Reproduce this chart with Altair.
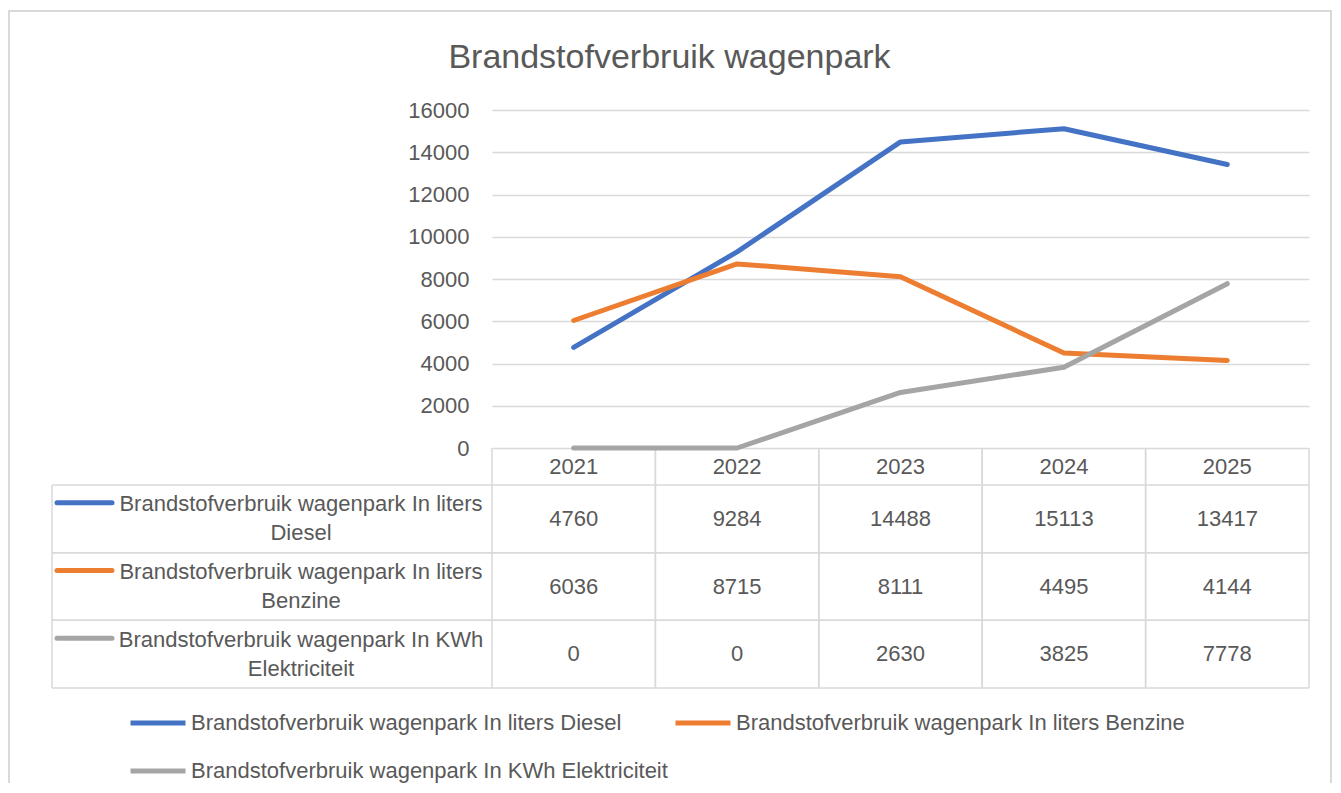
import altair as alt
import pandas as pd

FONT = "Liberation Sans"
TXT = "#595959"
LINE = "#d9d9d9"

years = ["2021", "2022", "2023", "2024", "2025"]
series = [
    "Brandstofverbruik wagenpark In liters Diesel",
    "Brandstofverbruik wagenpark In liters Benzine",
    "Brandstofverbruik wagenpark In KWh Elektriciteit",
]
diesel = [4760, 9284, 14488, 15113, 13417]
benzine = [6036, 8715, 8111, 4495, 4144]
elektriciteit = [0, 0, 2630, 3825, 7778]
colors = ["#4472C4", "#ED7D31", "#A5A5A5"]
y_ticks = [0, 2000, 4000, 6000, 8000, 10000, 12000, 14000, 16000]

rows = []
for s, vals in zip(series, [diesel, benzine, elektriciteit]):
    for yr, v in zip(years, vals):
        rows.append({"serie": s, "jaar": yr, "waarde": v})
df = pd.DataFrame(rows)
labels_df = pd.DataFrame({
    "serie": series,
    "label": [s.rsplit(" ", 1)[0] + "\n" + s.rsplit(" ", 1)[1] for s in series],
})
years_df = pd.DataFrame({"jaar": years})
one_df = pd.DataFrame({"a": [0]})

W, H = 817, 338
x_scale = alt.Scale(type="band", domain=years, paddingInner=0, paddingOuter=0)
color_scale = alt.Scale(domain=series, range=colors)
table_y = alt.Scale(type="band", domain=series, range=[375, 578], paddingInner=0, paddingOuter=0)

legend = alt.Legend(orient="none", legendX=-364, legendY=583, columns=2, direction="horizontal",
                    columnPadding=-3, rowPadding=7, symbolType="stroke",
                    symbolSize=3025, symbolStrokeWidth=5, labelFontSize=22,
                    labelColor=TXT, labelFont=FONT, labelLimit=1000,
                    labelOffset=3, title=None, padding=0)

def xband(pos):
    return alt.X("jaar:O", scale=x_scale, axis=None, bandPosition=pos)

def yrow(pos):
    return alt.Y("serie:N", scale=table_y, axis=None, bandPosition=pos)

color_enc = alt.Color("serie:N", scale=color_scale, sort=series, legend=legend)

lines = alt.Chart(df).mark_line(strokeWidth=5, strokeCap="round", strokeJoin="round").encode(
    x=xband(0.5),
    y=alt.Y("waarde:Q", scale=alt.Scale(domain=[0, 16000], nice=False),
            axis=alt.Axis(values=y_ticks, format="d", grid=True, gridColor=LINE, gridWidth=1.5,
                          domain=False, ticks=False, labelPadding=23, labelFontSize=22,
                          labelColor=TXT, labelFont=FONT, title=None)),
    color=color_enc,
)

header = alt.Chart(years_df).mark_text(fontSize=22, font=FONT, color=TXT, baseline="middle").encode(
    x=xband(0.5), y=alt.value(357), text="jaar:N"
)

values = alt.Chart(df).mark_text(fontSize=22, font=FONT, color=TXT, baseline="middle").encode(
    x=xband(0.5), y=yrow(0.5), text="waarde:Q"
)

row_labels = alt.Chart(labels_df).mark_text(fontSize=22, font=FONT, color=TXT, baseline="middle",
                                            align="center", lineBreak="\n", lineHeight=29,
                                            dy=-14.5).encode(
    x=alt.value(-191), y=yrow(0.5), text="label:N"
)

keys = alt.Chart(labels_df).mark_rule(strokeWidth=5, strokeCap="round", yOffset=-16).encode(
    x=alt.value(-435), x2=alt.value(-380), y=yrow(0.5),
    color=color_enc,
)

hlines_top = alt.Chart(labels_df).mark_rule(color=LINE, strokeWidth=1.5).encode(
    x=alt.value(-440), x2=alt.value(W), y=yrow(0)
)
hlines_bot = alt.Chart(labels_df).mark_rule(color=LINE, strokeWidth=1.5).encode(
    x=alt.value(-440), x2=alt.value(W), y=yrow(1)
)
vlines_l = alt.Chart(years_df).mark_rule(color=LINE, strokeWidth=1.5).encode(
    x=xband(0), y=alt.value(338), y2=alt.value(578)
)
vlines_r = alt.Chart(years_df).mark_rule(color=LINE, strokeWidth=1.5).encode(
    x=xband(1), y=alt.value(338), y2=alt.value(578)
)
vline_left = alt.Chart(one_df).mark_rule(color=LINE, strokeWidth=1.5).encode(
    x=alt.value(-440), y=alt.value(375), y2=alt.value(578)
)
border = alt.Chart(one_df).mark_rect(fillOpacity=0, stroke=LINE, strokeWidth=2).encode(
    x=alt.value(-483), x2=alt.value(839), y=alt.value(-99), y2=alt.value(700)
)

chart = alt.layer(
    border, hlines_top, hlines_bot, vlines_l, vlines_r, vline_left,
    header, values, row_labels, keys, lines,
).resolve_scale(y="independent").properties(
    width=W, height=H,
    autosize=alt.AutoSizeParams(type="none"),
    padding={"left": 484, "top": 102, "right": 24, "bottom": 335},
    title=alt.TitleParams("Brandstofverbruik wagenpark", fontSize=34, font=FONT, color=TXT,
                          fontWeight="normal", anchor="middle", dx=-231, dy=85, offset=20),
).configure_view(stroke=None)

chart.save("out.html", embed_options={"renderer": "svg", "actions": False})
